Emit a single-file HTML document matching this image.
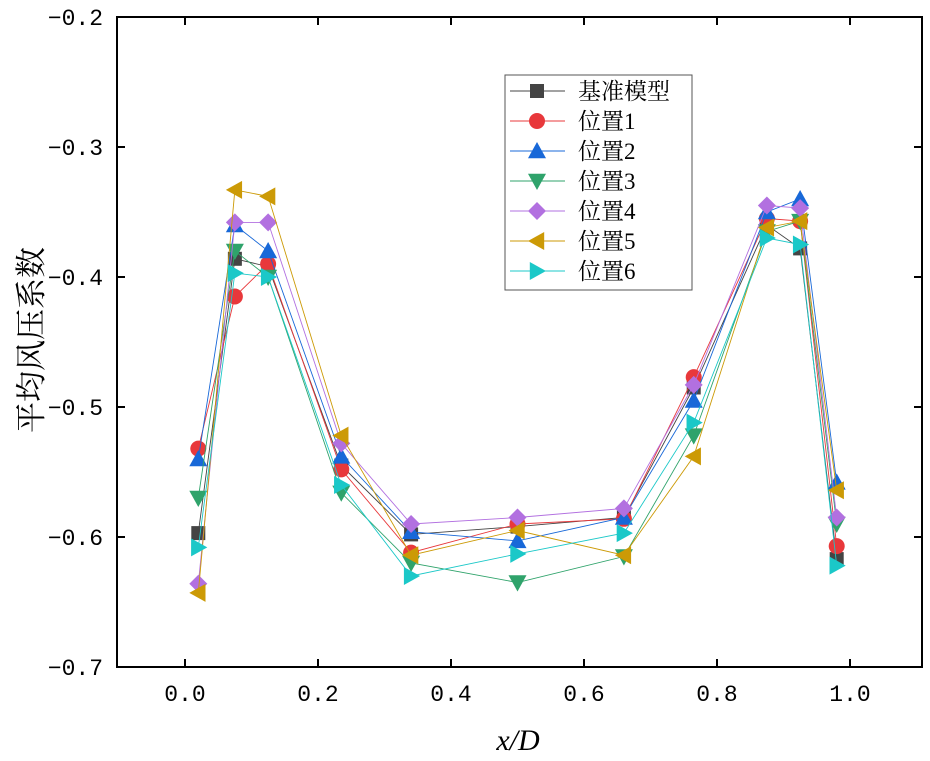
<!DOCTYPE html>
<html><head><meta charset="utf-8"><style>
body{margin:0;background:#fff}
svg text{font-family:"Liberation Serif","Noto Serif CJK SC",serif;fill:#000}
svg text.tick{font-family:"Liberation Mono","Noto Serif CJK SC",monospace}
</style></head><body>
<svg id="chart" width="930" height="756" viewBox="0 0 930 756" xmlns="http://www.w3.org/2000/svg">
<g id="plot"></g>
</svg>
<script>
const xs=[0.02,0.075,0.125,0.235,0.34,0.5,0.66,0.765,0.875,0.925,0.98];
const names=["基准模型","位置1","位置2","位置3","位置4","位置5","位置6"];
const sBase=[-0.597,-0.386,-0.392,-0.545,-0.598,-0.592,-0.585,-0.485,-0.36,-0.378,-0.617];
const s1=[-0.532,-0.415,-0.39,-0.548,-0.612,-0.59,-0.586,-0.477,-0.355,-0.357,-0.607];
const s2=[-0.54,-0.36,-0.38,-0.538,-0.596,-0.603,-0.585,-0.495,-0.35,-0.34,-0.558];
const s3=[-0.57,-0.38,-0.4,-0.566,-0.62,-0.635,-0.615,-0.522,-0.365,-0.357,-0.59];
const s4=[-0.636,-0.358,-0.358,-0.528,-0.59,-0.585,-0.578,-0.483,-0.345,-0.347,-0.585];
const s5=[-0.643,-0.333,-0.338,-0.522,-0.614,-0.595,-0.614,-0.538,-0.362,-0.357,-0.564];
const s6=[-0.608,-0.397,-0.4,-0.56,-0.63,-0.613,-0.597,-0.512,-0.37,-0.375,-0.622];
const xTicks=[0.0,0.2,0.4,0.6,0.8,1.0];
const xTickLabels=["0.0","0.2","0.4","0.6","0.8","1.0"];
const yTicks=[-0.2,-0.3,-0.4,-0.5,-0.6,-0.7];
const yTickLabels=["−0.2","−0.3","−0.4","−0.5","−0.6","−0.7"];
const series=[sBase,s1,s2,s3,s4,s5,s6];
const colors=["#444","#e8383b","#1868d8","#2fa36b","#b270e0","#cc9a06","#1bc8c8"];
const shapes=["square","circle","up","down","diamond","left","right"];
const L=117,R=922,T=17,B=667;
const X=v=>185+v*665, Y=v=>T+(-0.2-v)*1300;
const NS="http://www.w3.org/2000/svg";
const g=document.getElementById('plot');
function el(t,a,p){const e=document.createElementNS(NS,t);for(const k in a)e.setAttribute(k,a[k]);(p||g).appendChild(e);return e;}
function marker(shape,cx,cy,c,parent){
  const s=9;let e;
  if(shape=="square")e=el('rect',{x:cx-7,y:cy-7,width:14,height:14,fill:c},parent);
  else if(shape=="circle")e=el('circle',{cx:cx,cy:cy,r:8,fill:c},parent);
  else{let p;
    if(shape=="up")p=[[cx,cy-s],[cx+s,cy+s*0.8],[cx-s,cy+s*0.8]];
    if(shape=="down")p=[[cx,cy+s],[cx+s,cy-s*0.8],[cx-s,cy-s*0.8]];
    if(shape=="left")p=[[cx-s,cy],[cx+s*0.8,cy-s],[cx+s*0.8,cy+s]];
    if(shape=="right")p=[[cx+s,cy],[cx-s*0.8,cy-s],[cx-s*0.8,cy+s]];
    if(shape=="diamond")p=[[cx,cy-s],[cx+s,cy],[cx,cy+s],[cx-s,cy]];
    e=el('polygon',{points:p.map(q=>q.join(',')).join(' '),fill:c},parent);}
  return e;
}
const fr=el('rect',{x:L,y:T,width:R-L,height:B-T,fill:'none',stroke:'#000','stroke-width':2});


xTicks.forEach((v,i)=>{
  const x=X(v);
  el('line',{x1:x,y1:B,x2:x,y2:B-8,stroke:'#000','stroke-width':2});
  el('line',{x1:x,y1:T,x2:x,y2:T+8,stroke:'#000','stroke-width':2});
  const t=el('text',{x:x,y:B+34,'text-anchor':'middle','font-size':23,class:'tick'});t.textContent=xTickLabels[i];
  
  
});
yTicks.forEach((v,i)=>{
  const y=Y(v);
  el('line',{x1:L,y1:y,x2:L+8,y2:y,stroke:'#000','stroke-width':2});
  el('line',{x1:R,y1:y,x2:R-8,y2:y,stroke:'#000','stroke-width':2});
  const t=el('text',{x:L-14,y:y+8,'text-anchor':'end','font-size':23,class:'tick'});t.textContent=yTickLabels[i];
  
  
});
series.forEach((s,k)=>{
  const sg=el('g',{});
  
  
  el('polyline',{points:s.map((v,i)=>X(xs[i])+','+Y(v)).join(' '),fill:'none',stroke:colors[k],'stroke-width':0.9},sg);
  s.forEach((v,i)=>{const m=marker(shapes[k],X(xs[i]),Y(v),colors[k],sg);
    
    });
});
const lg=el('g',{});


el('rect',{x:505,y:75,width:187,height:215,fill:'#fff',stroke:'#555','stroke-width':1},lg);
names.forEach((n,k)=>{
  const y=91+k*30;
  const eg=el('g',{},lg);
  
  
  el('line',{x1:510,y1:y,x2:565,y2:y,stroke:colors[k],'stroke-width':0.9},eg);
  marker(shapes[k],537,y,colors[k],eg);
  const t=el('text',{x:578,y:y+8,'font-size':23},eg);t.textContent=n;
});
const xt=el('text',{x:518,y:750,'text-anchor':'middle','font-size':30,'font-style':'italic'});xt.textContent='x/D';


const yt=el('text',{x:0,y:0,'text-anchor':'middle','font-size':31,transform:'translate(42,340) rotate(-90)'});yt.textContent='平均风压系数';


</script>
</body></html>
